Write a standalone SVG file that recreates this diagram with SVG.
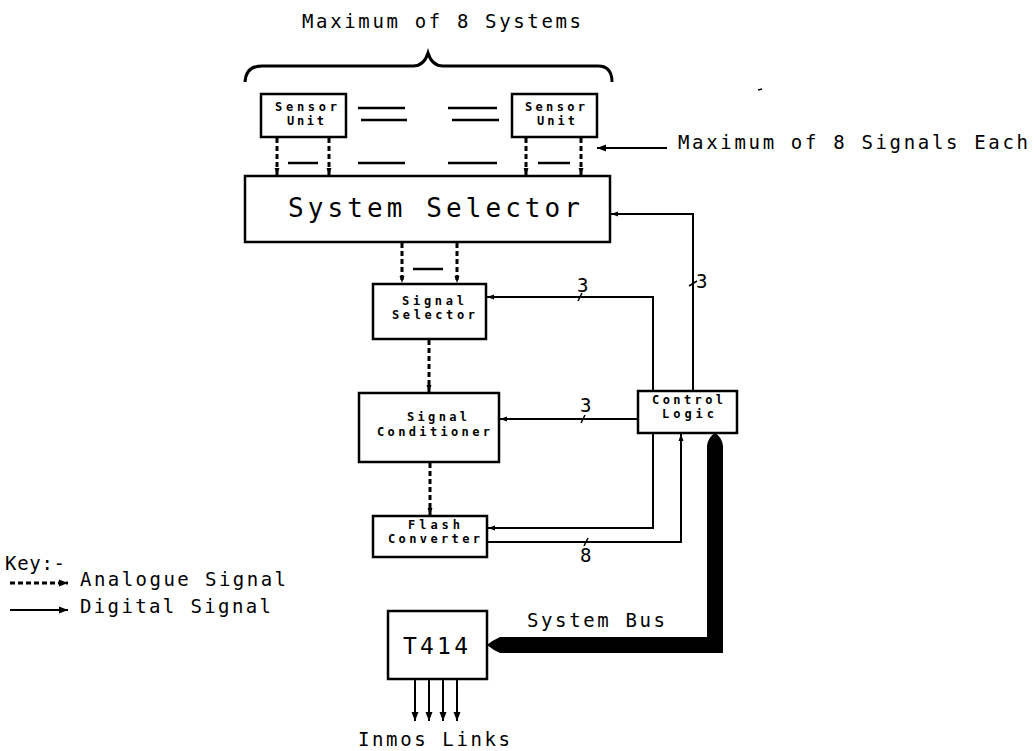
<svg xmlns="http://www.w3.org/2000/svg" width="1034" height="751" viewBox="0 0 1034 751">
<style>
  .bg{fill:#fff}
  .box{fill:#fff;stroke:#000;stroke-width:2.5}
  .t{font-family:"DejaVu Sans Mono","Liberation Mono",monospace;fill:#000}
  .big{font-size:19px}
  .sm{font-size:12px;font-weight:bold}
  .dig{fill:none;stroke:#000;stroke-width:2}
  .ana{fill:none;stroke:#000;stroke-width:3;stroke-dasharray:5 3}
  .sol{fill:none;stroke:#000;stroke-width:2.5}
</style>
<defs>
  <marker id="ah" markerUnits="userSpaceOnUse" markerWidth="10" markerHeight="10" viewBox="0 0 10 10" refX="9" refY="5" orient="auto">
    <path d="M0,1.5 L9,5 L0,8.5 Z" fill="#000"/>
  </marker>
  <marker id="ahs" markerUnits="userSpaceOnUse" markerWidth="8" markerHeight="8" viewBox="0 0 8 8" refX="7" refY="4" orient="auto">
    <path d="M0,1.5 L7,4 L0,6.5 Z" fill="#000"/>
  </marker>
</defs>
<rect class="bg" x="0" y="0" width="1034" height="751"/>

<!-- annotations -->
<text class="t big" x="302" y="28" textLength="279" lengthAdjust="spacing">Maximum of 8 Systems</text>
<path d="M245,82 Q246,66 262,66 L413,66 Q424,66 428,53 Q432,66 443,66 L598,66 Q612,66 612,82" fill="none" stroke="#000" stroke-width="3"/>
<text class="t big" x="678" y="149" textLength="350" lengthAdjust="spacing">Maximum of 8 Signals Each</text>
<line x1="667" y1="148" x2="597" y2="148" class="dig" stroke-width="2.5" marker-end="url(#ah)"/>
<line x1="758" y1="90" x2="762" y2="89" stroke="#000" stroke-width="1.5"/>

<!-- connectors -->
<g id="connectors">
  <line x1="358" y1="108" x2="405" y2="108" class="sol"/>
  <line x1="361" y1="120" x2="407" y2="120" class="sol"/>
  <line x1="448" y1="108" x2="497" y2="108" class="sol"/>
  <line x1="452" y1="120" x2="499" y2="120" class="sol"/>
  <line x1="277" y1="138" x2="277" y2="175" class="ana" marker-end="url(#ahs)"/>
  <line x1="329" y1="138" x2="329" y2="175" class="ana" marker-end="url(#ahs)"/>
  <line x1="526" y1="138" x2="526" y2="175" class="ana" marker-end="url(#ahs)"/>
  <line x1="581" y1="138" x2="581" y2="175" class="ana" marker-end="url(#ahs)"/>
  <line x1="288" y1="163" x2="318" y2="163" class="sol"/>
  <line x1="358" y1="163" x2="405" y2="163" class="sol"/>
  <line x1="448" y1="163" x2="497" y2="163" class="sol"/>
  <line x1="538" y1="163" x2="570" y2="163" class="sol"/>
  <line x1="402" y1="243" x2="402" y2="283" class="ana" marker-end="url(#ahs)"/>
  <line x1="457" y1="243" x2="457" y2="283" class="ana" marker-end="url(#ahs)"/>
  <line x1="413" y1="269" x2="443" y2="269" class="sol"/>
  <line x1="429" y1="340" x2="429" y2="392" class="ana" marker-end="url(#ahs)"/>
  <line x1="430" y1="463" x2="430" y2="515" class="ana" marker-end="url(#ahs)"/>
  <polyline points="693,391 693,214 611,214" class="dig" marker-end="url(#ahs)"/>
  <polyline points="653,391 653,297 487,297" class="dig" marker-end="url(#ahs)"/>
  <line x1="637" y1="419" x2="500" y2="419" class="dig" marker-end="url(#ahs)"/>
  <polyline points="653,433 653,528 488,528" class="dig" marker-end="url(#ahs)"/>
  <polyline points="488,542 681,542 681,434" class="dig" marker-end="url(#ahs)"/>
  <line x1="578" y1="301" x2="582" y2="293" stroke="#000" stroke-width="1.5"/>
  <line x1="581" y1="423" x2="585" y2="415" stroke="#000" stroke-width="1.5"/>
  <line x1="689" y1="286" x2="697" y2="281" stroke="#000" stroke-width="1.5"/>
  <line x1="584" y1="546" x2="588" y2="538" stroke="#000" stroke-width="1.5"/>
  <text class="t big" x="577" y="292">3</text>
  <text class="t big" x="580" y="412">3</text>
  <text class="t big" x="696" y="288">3</text>
  <text class="t big" x="580" y="562">8</text>
  <path d="M723,653 L500,653 Q493,650 487,645 Q493,640 500,637 L707,637 L707,446 Q708,437 715,433 Q722,437 723,446 Z" fill="#000"/>
  <text class="t big" x="527" y="627" textLength="138" lengthAdjust="spacing">System Bus</text>
  <line x1="415" y1="680" x2="415" y2="721" class="dig" marker-end="url(#ah)"/>
  <line x1="429" y1="680" x2="429" y2="721" class="dig" marker-end="url(#ah)"/>
  <line x1="443" y1="680" x2="443" y2="721" class="dig" marker-end="url(#ah)"/>
  <line x1="457" y1="680" x2="457" y2="721" class="dig" marker-end="url(#ah)"/>
  <text class="t big" x="358" y="746" textLength="152" lengthAdjust="spacing">Inmos Links</text>
</g>

<!-- nodes -->
<g id="sensor-unit-1">
  <rect class="box" x="261" y="94" width="85" height="43"/>
  <text class="t sm" x="275" y="111" textLength="62" lengthAdjust="spacing">Sensor</text>
  <text class="t sm" x="287" y="125" textLength="37" lengthAdjust="spacing">Unit</text>
</g>
<g id="sensor-unit-2">
  <rect class="box" x="512" y="94" width="85" height="43"/>
  <text class="t sm" x="525" y="111" textLength="60" lengthAdjust="spacing">Sensor</text>
  <text class="t sm" x="537" y="125" textLength="38" lengthAdjust="spacing">Unit</text>
</g>
<g id="system-selector">
  <rect class="box" x="245" y="176" width="365" height="66"/>
  <text class="t" font-size="26" x="288" y="217" textLength="292" lengthAdjust="spacing">System Selector</text>
</g>
<g id="signal-selector">
  <rect class="box" x="373" y="284" width="113" height="55"/>
  <text class="t sm" x="402" y="305" textLength="62" lengthAdjust="spacing">Signal</text>
  <text class="t sm" x="392" y="319" textLength="83" lengthAdjust="spacing">Selector</text>
</g>
<g id="signal-conditioner">
  <rect class="box" x="359" y="393" width="140" height="69"/>
  <text class="t sm" x="407" y="421" textLength="60" lengthAdjust="spacing">Signal</text>
  <text class="t sm" x="377" y="436" textLength="113" lengthAdjust="spacing">Conditioner</text>
</g>
<g id="flash-converter">
  <rect class="box" x="373" y="516" width="114" height="41"/>
  <text class="t sm" x="408" y="529" textLength="52" lengthAdjust="spacing">Flash</text>
  <text class="t sm" x="388" y="543" textLength="92" lengthAdjust="spacing">Converter</text>
</g>
<g id="control-logic">
  <rect class="box" x="638" y="391" width="99" height="42"/>
  <text class="t sm" x="652" y="404" textLength="71" lengthAdjust="spacing">Control</text>
  <text class="t sm" x="662" y="418" textLength="52" lengthAdjust="spacing">Logic</text>
</g>
<g id="t414">
  <rect class="box" x="388" y="611" width="99" height="68"/>
  <text class="t" font-size="23" x="403" y="654" textLength="65" lengthAdjust="spacing">T414</text>
</g>

<!-- key -->
<g id="key">
  <text class="t big" x="5" y="570" textLength="60" lengthAdjust="spacing">Key:-</text>
  <line x1="10" y1="583" x2="68" y2="583" class="ana" marker-end="url(#ah)"/>
  <text class="t big" x="80" y="586" textLength="206" lengthAdjust="spacing">Analogue Signal</text>
  <line x1="10" y1="610" x2="68" y2="610" class="dig" marker-end="url(#ah)"/>
  <text class="t big" x="80" y="613" textLength="191" lengthAdjust="spacing">Digital Signal</text>
</g>
</svg>
